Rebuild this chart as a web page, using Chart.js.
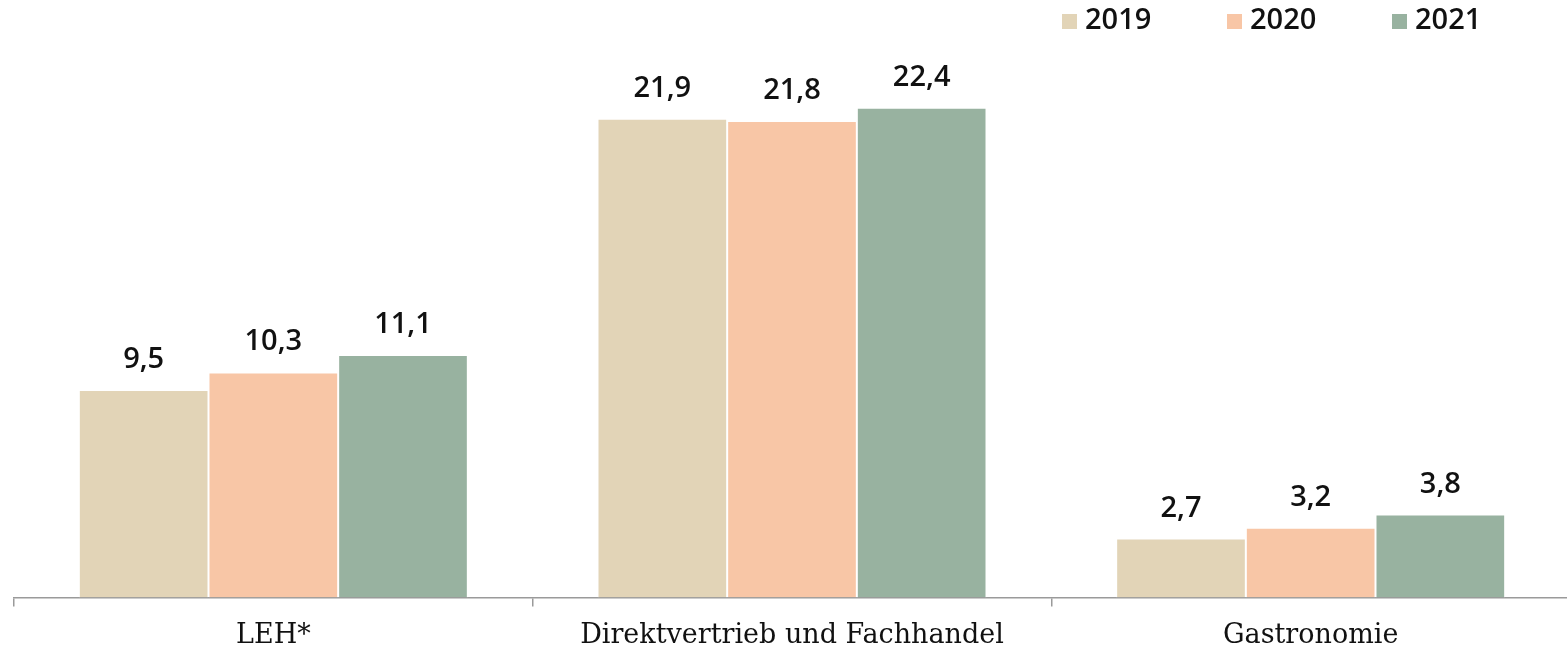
<!DOCTYPE html>
<html lang="de">
<head>
<meta charset="UTF-8">
<title>Umsatz nach Vertriebsweg</title>
<style>
  body { margin: 0; background: #fff; overflow: hidden; }
  .wrap { position: relative; width: 1570px; height: 649px; }
</style>
</head>
<body>
<div class="wrap"><canvas id="chart"></canvas></div>

<script src="https://cdn.jsdelivr.net/npm/chart.js"></script>
<script>
// data
const categories = ['LEH*', 'Direktvertrieb und Fachhandel', 'Gastronomie']
const years = ['2019', '2020', '2021']
const values2019 = [9.5, 21.9, 2.7]
const values2020 = [10.3, 21.8, 3.2]
const values2021 = [11.1, 22.4, 3.8]
const colors = ['#e2d4b7', '#f8c6a6', '#98b2a0']

const fmt = v => v.toFixed(1).replace('.', ',')

// value labels above the bars
const barLabels = {
    id: 'barLabels',
    afterDatasetsDraw(chart) {
        const ctx = chart.ctx
        ctx.save()
        ctx.font = '600 29px "Open Sans", sans-serif'
        ctx.fillStyle = '#111'
        ctx.textAlign = 'center'
        ctx.textBaseline = 'alphabetic'
        chart.data.datasets.forEach((ds, i) => {
            chart.getDatasetMeta(i).data.forEach((bar, j) => {
                ctx.fillText(fmt(ds.data[j]), bar.x, bar.y - 22)
            })
        })
        ctx.restore()
    }
}

// small legend top right
const topLegend = {
    id: 'topLegend',
    afterDraw(chart) {
        const ctx = chart.ctx
        ctx.save()
        ctx.font = '600 29px "Open Sans", sans-serif'
        ctx.textBaseline = 'middle'
        ctx.textAlign = 'left'
        const startX = 1062
        chart.data.datasets.forEach((ds, i) => {
            const x = startX + i * 165
            ctx.fillStyle = ds.backgroundColor
            ctx.fillRect(x, 14, 15, 15)
            ctx.fillStyle = '#111'
            ctx.fillText(ds.label, x + 23, 21)
        })
        ctx.restore()
    }
}

const ds = [values2019, values2020, values2021].map((vals, i) => ({
    label: years[i],
    data: vals,
    backgroundColor: colors[i],
    borderColor: '#fff',
    borderWidth: 1,
    categoryPercentage: 0.75,
    barPercentage: 1
}))

new Chart(document.getElementById('chart'), {
    type: 'bar',
    data: { labels: categories, datasets: ds },
    options: {
        responsive: true,
        maintainAspectRatio: false,
        devicePixelRatio: 1,
        animation: false,
        layout: { padding: { top: 51, left: 14, right: 0, bottom: -16 } },
        plugins: {
            legend: { display: false },
            tooltip: { enabled: false }
        },
        scales: {
            x: {
                grid: { offset: true, drawOnChartArea: false, tickLength: 9, color: '#9a9a9a', lineWidth: 1.5 },
                border: { color: '#9a9a9a', width: 1.5 },
                ticks: {
                    color: '#111',
                    padding: 13,
                    font: { family: '"DejaVu Serif", serif', size: 27 }
                }
            },
            y: {
                display: false,
                min: 0,
                max: 25
            }
        }
    },
    plugins: [barLabels, topLegend]
})
</script>
</body>
</html>
